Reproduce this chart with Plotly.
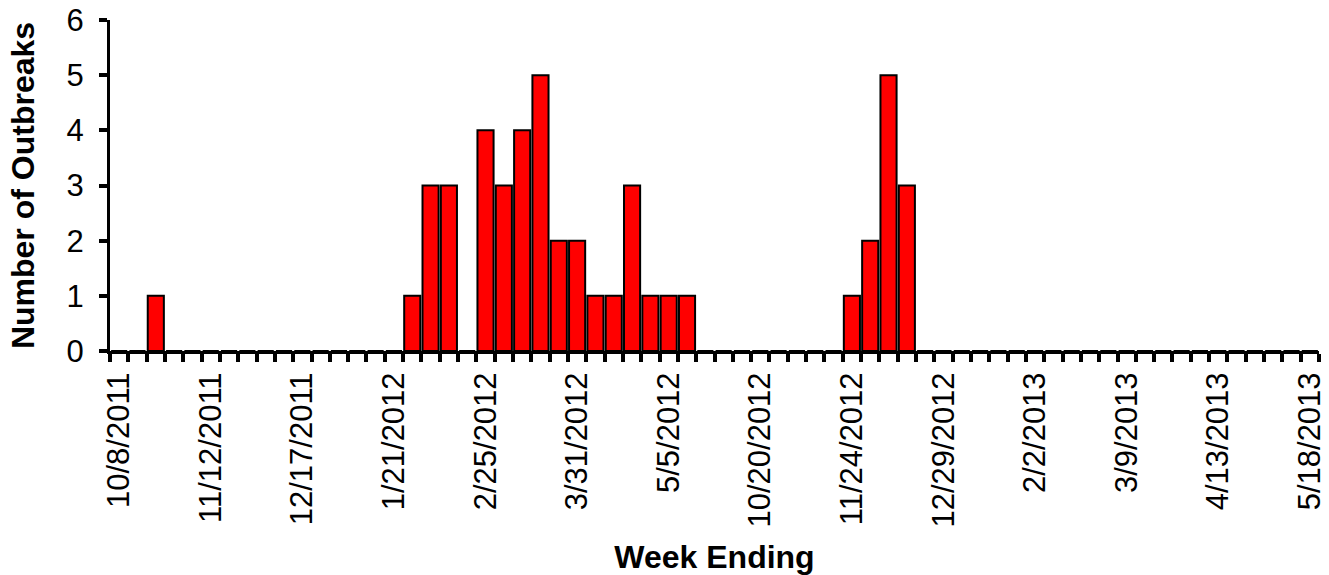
import plotly.graph_objects as go

week_ending = [
    "10/8/2011", "10/15/2011", "10/22/2011", "10/29/2011", "11/5/2011", "11/12/2011",
    "11/19/2011", "11/26/2011", "12/3/2011", "12/10/2011", "12/17/2011", "12/24/2011",
    "12/31/2011", "1/7/2012", "1/14/2012", "1/21/2012", "1/28/2012", "2/4/2012",
    "2/11/2012", "2/18/2012", "2/25/2012", "3/3/2012", "3/10/2012", "3/17/2012",
    "3/24/2012", "3/31/2012", "4/7/2012", "4/14/2012", "4/21/2012", "4/28/2012",
    "5/5/2012", "5/12/2012", "5/19/2012",
    "10/6/2012", "10/13/2012", "10/20/2012", "10/27/2012", "11/3/2012", "11/10/2012",
    "11/17/2012", "11/24/2012", "12/1/2012", "12/8/2012", "12/15/2012", "12/22/2012",
    "12/29/2012", "1/5/2013", "1/12/2013", "1/19/2013", "1/26/2013", "2/2/2013",
    "2/9/2013", "2/16/2013", "2/23/2013", "3/2/2013", "3/9/2013", "3/16/2013",
    "3/23/2013", "3/30/2013", "4/6/2013", "4/13/2013", "4/20/2013", "4/27/2013",
    "5/4/2013", "5/11/2013", "5/18/2013",
]

outbreaks = [
    0, 0, 1, 0, 0, 0, 0, 0, 0, 0, 0, 0, 0, 0, 0, 0, 1, 3, 3, 0, 4, 3, 4, 5, 2, 2,
    1, 1, 3, 1, 1, 1, 0,
    0, 0, 0, 0, 0, 0, 0, 1, 2, 5, 3, 0, 0, 0, 0, 0, 0, 0, 0, 0, 0, 0, 0, 0, 0, 0,
    0, 0, 0, 0, 0, 0, 0,
]

labelled_weeks = [
    "10/8/2011", "11/12/2011", "12/17/2011", "1/21/2012", "2/25/2012", "3/31/2012",
    "5/5/2012", "10/20/2012", "11/24/2012", "12/29/2012", "2/2/2013", "3/9/2013",
    "4/13/2013", "5/18/2013",
]

y_ticks = [0, 1, 2, 3, 4, 5, 6]

FONT = "Arial, Liberation Sans, sans-serif"

fig = go.Figure(
    go.Bar(
        x=week_ending,
        y=outbreaks,
        marker=dict(color="#FF0000", line=dict(color="#000000", width=2)),
    )
)

fig.update_layout(
    width=1329,
    height=575,
    margin=dict(l=110, r=10, t=20, b=224, autoexpand=False),
    paper_bgcolor="white",
    plot_bgcolor="white",
    bargap=0.12,
    showlegend=False,
    font=dict(family=FONT, color="black"),
)

fig.update_xaxes(
    type="category",
    categoryorder="array",
    categoryarray=week_ending,
    range=[-0.5, len(week_ending) - 0.5],
    tickmode="array",
    tickvals=week_ending,
    ticktext=[w if w in labelled_weeks else "" for w in week_ending],
    tickson="boundaries",
    ticks="outside",
    ticklen=8,
    tickwidth=4,
    tickcolor="black",
    tickangle=-90,
    ticklabelstandoff=6,
    ticklabeloverflow="allow",
    tickfont=dict(family=FONT, size=31, color="black"),
    showline=True,
    linecolor="black",
    linewidth=3,
    showgrid=False,
    zeroline=False,
    automargin=False,
    title=dict(text="<b>Week Ending</b>", font=dict(family=FONT, size=32, color="black"), standoff=22),
)

fig.update_yaxes(
    range=[0, 6],
    tickmode="array",
    tickvals=y_ticks,
    ticks="outside",
    ticklen=8,
    tickwidth=4,
    tickcolor="black",
    ticklabelstandoff=9,
    ticklabeloverflow="allow",
    tickfont=dict(family=FONT, size=31, color="black"),
    showline=True,
    linecolor="black",
    linewidth=3,
    showgrid=False,
    zeroline=False,
    automargin=False,
    title=dict(text="<b>Number of Outbreaks</b>", font=dict(family=FONT, size=32, color="black"), standoff=23),
)

fig.write_html(
    "out.html",
    config={"displayModeBar": False},
    post_script="document.body.style.margin='0px';",
)
